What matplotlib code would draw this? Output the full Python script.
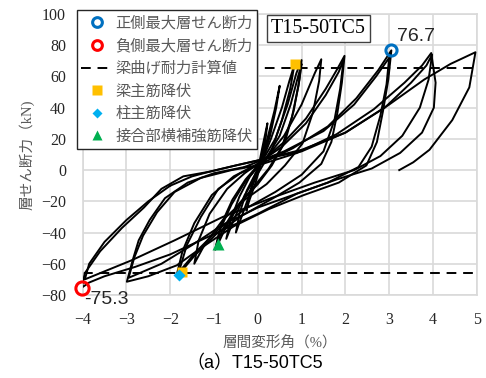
import matplotlib
matplotlib.use('Agg')
import matplotlib.pyplot as plt
from matplotlib.lines import Line2D

# hysteresis loops (story drift % , story shear kN)
amp_025_x = [0.0, 0.1, 0.22, 0.17, 0.08, -0.05, -0.2, -0.26, -0.18, -0.06, 0.05]
amp_025_y = [0, 14, 30, 18, 5, -8, -20, -26, -14, -3, 4]
amp_05_x = [0.05, 0.2, 0.38, 0.5, 0.42, 0.28, 0.1, -0.12, -0.32, -0.5, -0.42, -0.25, -0.05, 0.1]
amp_05_y = [4, 18, 38, 54, 40, 22, 6, -10, -26, -40, -28, -13, -2, 6]
amp_075_x = [0.1, 0.3, 0.55, 0.72, 0.84, 0.74, 0.55, 0.32, 0.05, -0.3, -0.55, -0.72, -0.62, -0.42, -0.18, 0.1]
amp_075_y = [6, 20, 40, 57, 68, 52, 32, 13, 0, -16, -32, -44, -32, -17, -4, 6]
amp_1_x = [0.1, 0.4, 0.68, 0.88, 1.0, 0.95, 0.82, 0.62, 0.32, 0.0, -0.4, -0.72, -0.91, -0.97, -0.86, -0.6, -0.3, 0.0, 0.2]
amp_1_y = [6, 20, 42, 62, 70.5, 58, 38, 18, 3, -9, -21, -36, -47.4, -51, -38, -22, -8, 2, 8]
amp_1b_x = [0.2, 0.5, 0.75, 0.92, 1.0, 0.93, 0.78, 0.55, 0.25, -0.1, -0.5, -0.8, -0.95, -0.84, -0.58, -0.28, 0.0]
amp_1b_y = [8, 22, 42, 60, 68, 54, 34, 15, 1, -11, -24, -38, -48, -35, -19, -6, 3]
amp_15_x = [0.2, 0.6, 1.0, 1.3, 1.45, 1.4, 1.26, 1.02, 0.62, 0.2, -0.3, -0.8, -1.2, -1.45, -1.35, -1.1, -0.7, -0.3, 0.1]
amp_15_y = [8, 22, 42, 62, 71, 57, 37, 17, 3, -9, -19, -32, -47, -60, -45, -28, -12, -2, 6]
amp_2_x = [0.1, 0.6, 1.1, 1.55, 1.82, 1.98, 1.92, 1.82, 1.68, 1.45, 0.95, 0.35, -0.35, -0.95, -1.45, -1.72, -1.85, -1.72, -1.45, -1.05, -0.55, 0.0]
amp_2_y = [6, 18, 33, 52, 65, 73.2, 56, 37, 18, 4, -8, -18, -29, -41, -55, -64, -67, -52, -34, -16, -4, 4]
amp_2b_x = [0.0, 0.55, 1.1, 1.55, 1.85, 1.96, 1.88, 1.75, 1.5, 1.0, 0.4, -0.3, -0.9, -1.4, -1.7, -1.8, -1.62, -1.3, -0.9, -0.4, 0.0]
amp_2b_y = [4, 15, 30, 48, 63, 71, 52, 32, 12, -3, -14, -25, -38, -52, -62, -65, -48, -30, -12, -2, 3]
amp_3_x = [0.0, 0.8, 1.6, 2.25, 2.75, 3.05, 2.98, 2.86, 2.72, 2.48, 1.85, 1.05, 0.25, -0.55, -1.25, -1.85, -2.5, -2.99, -2.86, -2.72, -2.47, -2.12, -1.6, -1.0, -0.3]
amp_3_y = [3, 14, 28, 46, 64, 76.7, 58, 38, 18, 3, -8, -16, -25, -36, -49, -61, -68, -71.5, -58, -45, -32, -18, -8, -2, 2]
amp_3b_x = [-0.3, 0.6, 1.5, 2.2, 2.7, 3.0, 2.94, 2.8, 2.6, 2.3, 1.6, 0.8, 0.0, -0.8, -1.5, -2.2, -2.7, -2.95, -2.82, -2.62, -2.3, -1.9, -1.3, -0.6, 0.0]
amp_3b_y = [2, 12, 25, 42, 60, 72, 55, 35, 15, 2, -8, -16, -24, -35, -48, -60, -66, -69, -56, -42, -27, -14, -5, 0, 3]
amp_4_x = [0.0, 0.9, 1.8, 2.65, 3.35, 3.75, 3.96, 4.06, 4.02, 3.75, 3.25, 2.6, 1.8, 0.9, 0.0, -1.0, -2.0, -2.8, -3.5, -3.85, -4.02, -3.95, -3.6, -3.1, -2.6, -2.2, -1.7, -1.1, -0.5, 0.05]
amp_4_y = [3, 11, 23, 39, 56, 67, 75, 56, 40, 24, 11, 1, -6, -15, -28, -41, -54, -62, -68, -72, -75.3, -66, -52, -37, -24, -12, -4, -1, 3, 6.5]
amp_4b_x = [0.05, 1.0, 2.0, 2.9, 3.5, 3.85, 3.98, 3.9, 3.7, 3.3, 2.8, 2.2, 1.3, 0.3, -0.8, -1.9, -2.9, -3.6, -3.95, -3.85, -3.5, -3.0, -2.5, -2.0]
amp_4b_y = [6.5, 13, 24, 40, 56, 67, 74, 58, 40, 22, 9, 0, -8, -18, -30, -45, -58, -66, -70, -60, -46, -32, -20, -10]
final_x = [-2.0, -1.5, -1.1, -0.5, 0.05, 1.0, 2.0, 3.0, 3.8, 4.4, 4.97, 4.83, 4.44, 3.92, 3.55, 3.23]
final_y = [-10, -4, -1, 3, 6.5, 12, 24, 42, 58, 68, 75.5, 53, 32, 13, 5, 0]

loops = [(amp_025_x, amp_025_y), (amp_05_x, amp_05_y), (amp_075_x, amp_075_y),
         (amp_1_x, amp_1_y), (amp_1b_x, amp_1b_y), (amp_15_x, amp_15_y),
         (amp_2_x, amp_2_y), (amp_2b_x, amp_2b_y), (amp_3_x, amp_3_y),
         (amp_3b_x, amp_3b_y), (amp_4_x, amp_4_y), (amp_4b_x, amp_4b_y),
         (final_x, final_y)]

# events
pos_max = (3.05, 76.7)
neg_max = (-4.02, -75.3)
beam_calc = [65.5, -66.0]
beam_yield_x = [0.84, -1.72]
beam_yield_y = [68.0, -65.0]
col_yield = (-1.8, -67.5)
joint_yield = (-0.91, -47.4)

jp = ['Noto Sans CJK JP', 'DejaVu Sans']
mixed_serif = ['Liberation Serif', 'Noto Sans CJK JP']
gray = '#595959'

fig = plt.figure(figsize=(4.86, 3.78), dpi=100)
ax = fig.add_axes([0.170, 0.2196, 0.811, 0.7434])

for lx, ly in loops:
    ax.plot(lx, ly, color='black', lw=1.4, zorder=3, solid_joinstyle='round')

for v in beam_calc:
    ax.axhline(v, color='black', lw=1.4, ls=(0, (5, 3.5)), zorder=2)

ax.plot(*pos_max, 'o', ms=8, mfc='none', mec='#0070C0', mew=2.2, zorder=5)
ax.plot(*neg_max, 'o', ms=9.5, mfc='none', mec='#FF0000', mew=2.2, zorder=5, clip_on=False)
ax.plot(beam_yield_x, beam_yield_y, 's', ms=7, color='#FFC000', mec='none', zorder=5)
ax.plot(*col_yield, 'D', ms=6.5, color='#00B0F0', mec='none', zorder=6)
ax.plot(*joint_yield, '^', ms=8, color='#00B050', mec='none', zorder=6)

ax.text(3.62, 85.8, f'{pos_max[1]}', fontsize=14, family='Liberation Sans',
        ha='center', va='center', color='#262626')
ax.text(-3.46, -83.0, f'{neg_max[1]}', fontsize=14, family='Liberation Sans',
        ha='center', va='center', color='#262626', clip_on=False)
ax.text(0.3, 90.8, 'T15-50TC5', fontsize=14.5, family='Liberation Serif',
        ha='left', va='center',
        bbox=dict(boxstyle='square,pad=0.2', fc='white', ec='#404040', lw=1))

ax.set_xlim(-4, 5)
ax.set_ylim(-80, 100)
ax.set_xticks(range(-4, 6))
ax.set_yticks(range(-80, 101, 20))
ax.grid(True, color='#d9d9d9', lw=1.2, zorder=0)
ax.set_axisbelow(True)
for s in ax.spines.values():
    s.set_color('#d9d9d9')
    s.set_linewidth(1.2)
ax.tick_params(length=0, labelsize=11.5, pad=12, labelcolor='#262626',
               labelfontfamily='Liberation Serif')

ax.set_ylabel('層せん断力（kN)', family=mixed_serif, fontsize=10.5, color=gray, labelpad=5)
ax.set_xlabel('層間変形角（%）', family=mixed_serif, fontsize=10.5, color=gray, labelpad=6)
fig.text(0.525, 0.037, '（a）T15-50TC5', family=['Liberation Sans', 'Noto Sans CJK JP'],
         fontsize=13, ha='center', va='center', color='black')

handles = [
    Line2D([], [], ls='none', marker='o', ms=7, mfc='none', mec='#0070C0', mew=2.2),
    Line2D([], [], ls='none', marker='o', ms=7, mfc='none', mec='#FF0000', mew=2.2),
    Line2D([], [], color='black', lw=1.4, ls=(0, (5, 3.5))),
    Line2D([], [], ls='none', marker='s', ms=7, color='#FFC000', mec='none'),
    Line2D([], [], ls='none', marker='D', ms=5.5, color='#00B0F0', mec='none'),
    Line2D([], [], ls='none', marker='^', ms=7.5, color='#00B050', mec='none'),
]
labels = ['正側最大層せん断力', '負側最大層せん断力', '梁曲げ耐力計算値',
          '梁主筋降伏', '柱主筋降伏', '接合部横補強筋降伏']
leg = ax.legend(handles, labels, loc='upper left', bbox_to_anchor=(76.7 / 486, 1 - 10 / 378),
                bbox_transform=fig.transFigure, prop={'family': jp, 'size': 11},
                frameon=True, fancybox=False, framealpha=1, edgecolor='#262626',
                borderaxespad=0, borderpad=0.3, handlelength=2.0, handletextpad=0.25,
                labelspacing=0.37)
leg.get_frame().set_linewidth(1)
leg.set_zorder(10)
for t in leg.get_texts():
    t.set_color(gray)

fig.savefig('out.png', dpi=100)
